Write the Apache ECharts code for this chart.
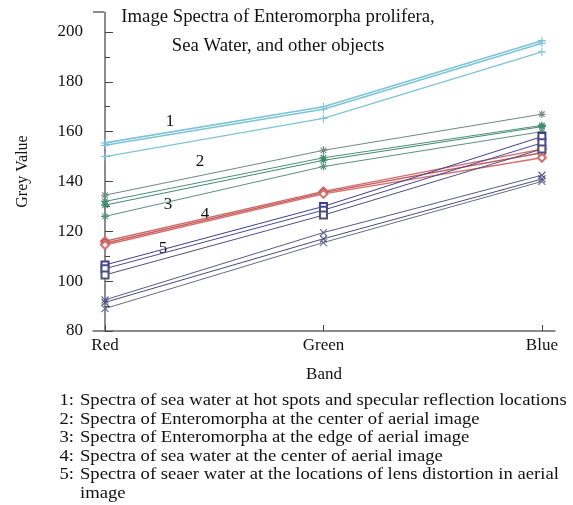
<!DOCTYPE html>
<html><head><meta charset="utf-8">
<script src="https://cdn.jsdelivr.net/npm/echarts@6/dist/echarts.min.js"></script>
<style>html,body{margin:0;padding:0;background:#fff}#c{width:573px;height:505px}</style>
</head><body><div id="c"></div>
<script>
const bands = ['Red', 'Green', 'Blue'];
const yTicks = [80, 100, 120, 140, 160, 180, 200];
// group 1: sea water at hot spots / specular reflection
const cyan1 = [155.5, 170, 196.5];
const cyan2 = [154.5, 169, 195.5];
const cyan3 = [150, 165.3, 192];
// group 2/3: Enteromorpha
const green1 = [134.5, 152.5, 167];
const green2 = [132, 149.5, 162.5];
const green3 = [130.5, 148.5, 162];
const green4 = [126, 146, 160];
// group 4: sea water at centre
const red1 = [116, 136, 153];
const red2 = [115.2, 135.5, 151.5];
const red3 = [114.5, 135, 149.5];
// group 5 (squares)
const blue1 = [106.5, 130, 158];
const blue2 = [105, 128.5, 155.5];
const blue3 = [102.5, 126.5, 153];
// group 5 (crosses)
const cross1 = [92.5, 119.5, 142.5];
const cross2 = [91.5, 117, 141];
const cross3 = [89, 115.5, 140];

const titleLines = ['Image Spectra of Enteromorpha prolifera,', 'Sea Water, and other objects'];
const legendLines = [
  ['1:', 'Spectra of sea water at hot spots and specular reflection locations'],
  ['2:', 'Spectra of Enteromorpha at the center of aerial image'],
  ['3:', 'Spectra of Enteromorpha at the edge of aerial image'],
  ['4:', 'Spectra of sea water at the center of aerial image'],
  ['5:', 'Spectra of seaer water at the locations of lens distortion in aerial'],
  ['', 'image']
];
const curveLabels = ['1', '2', '3', '4', '5'];

const PLUS = 'path://M0,5L10,5M5,0L5,10';
const STAR = 'path://M0,5L10,5M5,0L5,10M1.5,1.5L8.5,8.5M1.5,8.5L8.5,1.5';
const CROSS = 'path://M0,0L10,10M0,10L10,0';
const FONT = '"Liberation Serif", "DejaVu Serif", serif';

function mk(data, color, symbol, size, width) {
  const isPath = symbol.startsWith('path://');
  return {
    type: 'line',
    data: data.map((v, i) => [i, v]),
    symbol: symbol,
    symbolSize: size,
    showAllSymbol: true,
    lineStyle: {color: color, width: width || 1},
    itemStyle: isPath ? {color: 'none', borderColor: color, borderWidth: 1.1} : {color: color, borderColor: color, borderWidth: 1},
    emphasis: {disabled: true},
    silent: true,
    z: 3
  };
}

const series = [
  mk(cyan1, '#7cc3d6', PLUS, 8, 1.6),
  mk(cyan2, '#7cc3d6', PLUS, 8, 1.6),
  mk(cyan3, '#7cc3d6', PLUS, 8, 1.2),
  mk(green1, '#6f8880', STAR, 8),
  mk(green2, '#4e8f76', STAR, 8),
  mk(green3, '#3f8a6c', STAR, 8),
  mk(green4, '#5d8f80', STAR, 8),
  mk(red1, '#cf6b6b', 'emptyDiamond', 8, 1.4),
  mk(red2, '#c85a5a', 'emptyCircle', 7, 1.4),
  mk(red3, '#d07070', 'emptyDiamond', 8, 1.4),
  mk(blue1, '#3f3f8e', 'emptyRect', 7),
  mk(blue2, '#4a4a90', 'emptyRect', 7),
  mk(blue3, '#50507f', 'emptyRect', 7),
  mk(cross1, '#5a5a86', CROSS, 7),
  mk(cross2, '#4a4a80', CROSS, 7),
  mk(cross3, '#6a6a8a', CROSS, 7)
];

const graphics = [];
titleLines.forEach((t, i) => graphics.push({
  type: 'text', x: 278, y: 17 + i * 29, scaleX: 1.04,
  style: {text: t, font: '18px ' + FONT, fill: '#111', textAlign: 'center', textVerticalAlign: 'middle'}
}));
const lblPos = [[170, 122], [200, 162], [168, 205], [205, 215], [163, 249]];
curveLabels.forEach((t, i) => graphics.push({
  type: 'text', x: lblPos[i][0], y: lblPos[i][1],
  style: {text: t, font: '17px ' + FONT, fill: '#111', textAlign: 'center', textVerticalAlign: 'middle'}
}));
legendLines.forEach((r, i) => {
  const y = 401 + i * 18.5;
  graphics.push({type: 'text', x: 74, y: y, scaleX: 1.13, style: {text: r[0], font: '16.5px ' + FONT, fill: '#111', textAlign: 'right', textVerticalAlign: 'middle'}});
  graphics.push({type: 'text', x: 80, y: y, scaleX: 1.13, style: {text: r[1], font: '16.5px ' + FONT, fill: '#111', textAlign: 'left', textVerticalAlign: 'middle'}});
});
// cap at top of y axis
graphics.push({type: 'line', shape: {x1: 93, y1: 12, x2: 104, y2: 12}, style: {stroke: '#666', lineWidth: 1.5}});

const chart = echarts.init(document.getElementById('c'), null, {renderer: 'canvas'});
chart.setOption({
  animation: false,
  backgroundColor: '#fff',
  grid: {left: 93, right: 18, top: 12, bottom: 174, containLabel: false},
  xAxis: {
    type: 'value', min: -0.055, max: 2.06,
    name: 'Band', nameLocation: 'middle', nameGap: 35,
    nameTextStyle: {fontFamily: FONT, fontSize: 17, color: '#111'},
    axisLine: {lineStyle: {color: '#666', width: 1.5}},
    axisTick: {show: true, inside: true, length: 6, customValues: [0, 1, 2], lineStyle: {color: '#444'}},
    axisLabel: {customValues: [0, 1, 2], formatter: v => bands[Math.round(v)] || '', fontFamily: FONT, fontSize: 17, color: '#111', margin: 6},
    splitLine: {show: false}
  },
  yAxis: {
    type: 'value', min: 80, max: 208, interval: 20,
    name: 'Grey Value', nameLocation: 'middle', nameGap: 62, nameRotate: 90,
    nameTextStyle: {fontFamily: FONT, fontSize: 16, color: '#111'},
    axisLine: {show: true, lineStyle: {color: '#666', width: 1.5}},
    axisTick: {show: true, inside: true, length: 8, customValues: yTicks, lineStyle: {color: '#444'}},
    minorTick: {show: true, splitNumber: 2, length: 5, lineStyle: {color: '#444'}},
    axisLabel: {customValues: yTicks, fontFamily: FONT, fontSize: 17, color: '#111', margin: 10},
    splitLine: {show: false}
  },
  series: series,
  graphic: graphics
});
</script></body></html>
